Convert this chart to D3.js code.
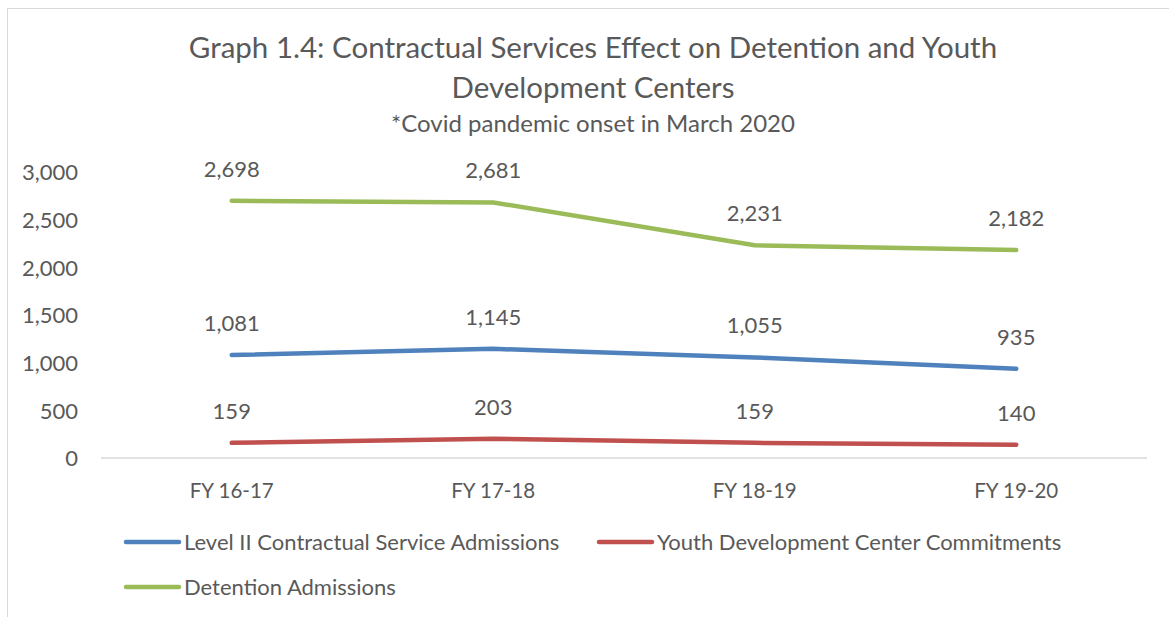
<!DOCTYPE html>
<html><head><meta charset="utf-8">
<script src="https://cdn.jsdelivr.net/npm/d3@7"></script>
<style>body{margin:0;background:#fff}text{font-family:Lato,"Open Sans",sans-serif;fill:#595959}</style>
</head><body><svg id="c" width="1169" height="617"></svg>
<script>
const categories=["FY 16-17","FY 17-18","FY 18-19","FY 19-20"];
const levelII=[1081,1145,1055,935];
const youthDev=[159,203,159,140];
const detention=[2698,2681,2231,2182];
const yTicks=[0,500,1000,1500,2000,2500,3000];
const seriesNames=["Level II Contractual Service Admissions","Youth Development Center Commitments","Detention Admissions"];
const colors=["#4f81bd","#c0504d","#9bbb59"];
const series=[levelII,youthDev,detention];

const svg=d3.select("#c");
svg.append("rect").attr("x",7.5).attr("y",8.5).attr("width",1200).attr("height",700).attr("fill","none").attr("stroke","#d9d9d9");
const x=d3.scaleBand().domain(categories).range([101,1147]);
const y=d3.scaleLinear().domain([0,3000]).range([458,172]);

svg.append("text").attr("x",593).attr("y",58).attr("text-anchor","middle").style("font-size","29.5px").text("Graph 1.4: Contractual Services Effect on Detention and Youth");
svg.append("text").attr("x",593).attr("y",98).attr("text-anchor","middle").style("font-size","29.5px").text("Development Centers");
svg.append("text").attr("x",593).attr("y",132).attr("text-anchor","middle").style("font-size","24px").text("*Covid pandemic onset in March 2020");

const ya=svg.append("g").attr("transform","translate(88,0)").call(d3.axisLeft(y).tickValues(yTicks).tickSize(0).tickFormat(d3.format(",")));
ya.select(".domain").remove();
ya.selectAll("text").style("font-size","22px").attr("dy","0.35em").attr("x",-10).attr("fill","#595959").style("font-family","Lato");

svg.append("line").attr("x1",101).attr("x2",1147).attr("y1",y(0)).attr("y2",y(0)).attr("stroke","#d9d9d9").attr("stroke-width",1.5);
const xa=svg.append("g").attr("transform",`translate(0,${y(0)})`).call(d3.axisBottom(x).tickSize(0));
xa.select(".domain").remove();
xa.selectAll("text").style("font-size","20.5px").attr("dy","0").attr("y",40).attr("fill","#595959").style("font-family","Lato");

const line=d3.line().x((d,i)=>x(categories[i])+x.bandwidth()/2).y(d=>y(d));
series.forEach((s,k)=>{
  svg.append("path").datum(s).attr("d",line).attr("fill","none").attr("stroke",colors[k]).attr("stroke-width",4.5).attr("stroke-linecap","round").attr("stroke-linejoin","round");
  svg.selectAll(null).data(s).enter().append("text").attr("x",(d,i)=>x(categories[i])+x.bandwidth()/2).attr("y",d=>y(d)-24).attr("text-anchor","middle").style("font-size","22px").text(d3.format(","));
});

const leg=[{k:0,x:126,y:542},{k:1,x:599,y:542},{k:2,x:126,y:587}];
leg.forEach(l=>{
  svg.append("line").attr("x1",l.x).attr("x2",l.x+53).attr("y1",l.y).attr("y2",l.y).attr("stroke",colors[l.k]).attr("stroke-width",4.5).attr("stroke-linecap","round");
  svg.append("text").attr("x",l.x+58).attr("y",l.y).attr("dy","0.35em").style("font-size","22px").text(seriesNames[l.k]);
});
</script></body></html>
